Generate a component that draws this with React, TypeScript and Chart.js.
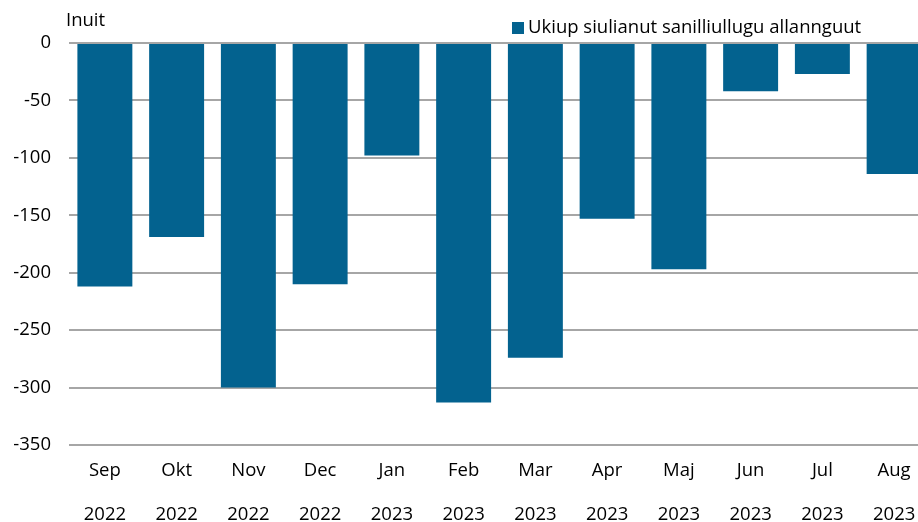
import React, { useEffect, useRef } from "react";
import { Chart, registerables } from "chart.js";

Chart.register(...registerables);

const months = ["Sep", "Okt", "Nov", "Dec", "Jan", "Feb", "Mar", "Apr", "Maj", "Jun", "Jul", "Aug"];
const years = ["2022", "2022", "2022", "2022", "2023", "2023", "2023", "2023", "2023", "2023", "2023", "2023"];
const values = [-212, -169, -300, -210, -98, -313, -274, -153, -197, -42, -27, -114];
const seriesName = "Ukiup siulianut sanilliullugu allannguut";
const unitLabel = "Inuit";
const yTicks = [0, -50, -100, -150, -200, -250, -300, -350];

const FONT = "'Open Sans', sans-serif";
const BAR_COLOR = "#03628f";
const FS = 18.5;

export default function App() {
  const ref = useRef<HTMLCanvasElement | null>(null);

  useEffect(() => {
    if (!ref.current) return;
    const overlay = {
      id: "overlay",
      afterDraw(chart: any) {
        const ctx = chart.ctx;
        ctx.save();
        ctx.fillStyle = "#000";
        ctx.font = `${FS}px ${FONT}`;
        ctx.textBaseline = "middle";
        ctx.textAlign = "left";
        ctx.fillText(unitLabel, 66, 21);
        // legend
        ctx.fillStyle = BAR_COLOR;
        ctx.fillRect(512, 22, 12, 12);
        ctx.fillStyle = "#000";
        ctx.fillText(seriesName, 528, 28);
        ctx.restore();
      },
    };
    const chart = new Chart(ref.current, {
      type: "bar",
      data: {
        labels: months.map((m, i) => [m, years[i]]),
        datasets: [
          {
            label: seriesName,
            data: values,
            backgroundColor: BAR_COLOR,
            categoryPercentage: 0.766,
            barPercentage: 1,
          },
        ],
      },
      options: {
        animation: false,
        responsive: false,
        maintainAspectRatio: false,
        layout: { padding: { top: 43, right: 0, left: 0, bottom: 0 } },
        plugins: {
          legend: { display: false },
          tooltip: { enabled: false },
        },
        scales: {
          x: {
            grid: { display: false, drawTicks: false },
            border: { display: false },
            ticks: {
              color: "#000",
              font: { family: FONT, size: FS, lineHeight: 2.38 },
              padding: 4,
              maxRotation: 0,
              autoSkip: false,
            },
            afterFit(scale: any) {
              scale.height = 77;
            },
          },
          y: {
            min: -350,
            max: 0,
            afterBuildTicks(scale: any) {
              scale.ticks = yTicks.map((v) => ({ value: v }));
            },
            grid: { color: "#a6a6a6", lineWidth: 2, drawTicks: false },
            border: { display: false },
            ticks: {
              color: "#000",
              font: { family: FONT, size: FS },
              padding: 18,
            },
            afterFit(scale: any) {
              scale.width = 69;
            },
          },
        },
      },
      plugins: [overlay],
    });
    return () => chart.destroy();
  }, []);

  return (
    <div style={{ position: "fixed", left: 0, top: 0, width: 918, height: 522, overflow: "hidden", background: "#fff" }}>
      <canvas ref={ref} width={930} height={522} style={{ display: "block" }} />
    </div>
  );
}
